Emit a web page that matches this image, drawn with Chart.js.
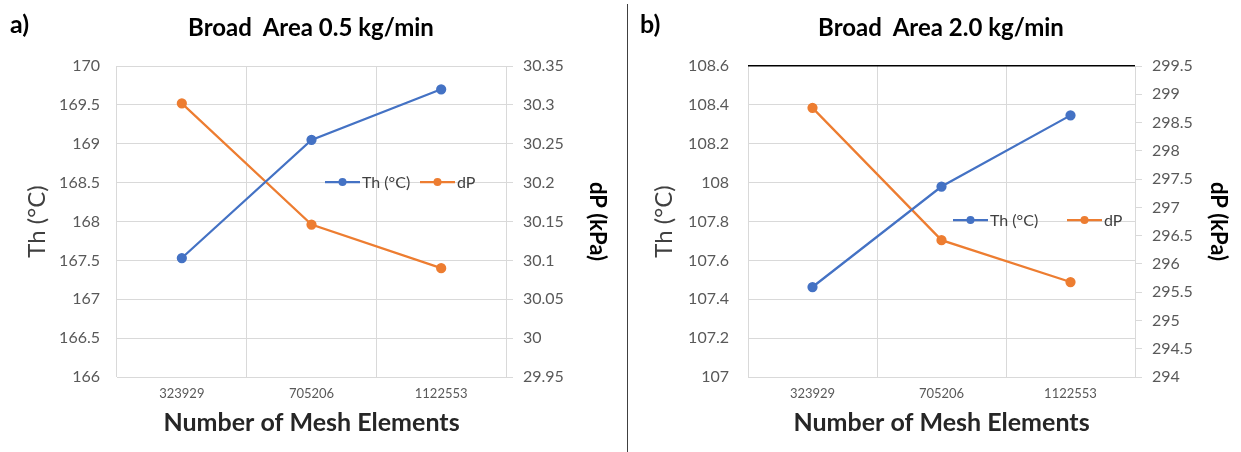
<!DOCTYPE html>
<html>
<head>
<meta charset="utf-8">
<script src="https://cdn.jsdelivr.net/npm/chart.js@4"></script>
<style>
  body { margin: 0; background: #fff; font-family: Lato, sans-serif; }
  #wrap { position: relative; width: 1241px; height: 452px; overflow: hidden; }
  .panel { position: absolute; top: 0; height: 452px; }
  .tag { position: absolute; top: 8px; font: bold 25px Lato, sans-serif; color: #000; }
  .ttl { position: absolute; top: 12px; width: 400px; margin-left: -200px; text-align: center;
         font: bold 24px Lato, sans-serif; color: #000; white-space: pre; }
  #divider { position: absolute; left: 627px; top: 4px; width: 1px; height: 448px; background: #404040; }
</style>
</head>
<body>
<div id="wrap">
  <div class="panel" style="left:0;width:620px"><canvas id="chartA"></canvas></div>
  <div class="panel" style="left:628px;width:613px"><canvas id="chartB"></canvas></div>
  <div class="tag" style="left:10px">a)</div>
  <div class="tag" style="left:640px">b)</div>
  <div class="ttl" style="left:311px">Broad  Area 0.5 kg/min</div>
  <div class="ttl" style="left:941px">Broad  Area 2.0 kg/min</div>
  <div id="divider"></div>
</div>
<script>
const categories = ['323929', '705206', '1122553'];

// panel a) 0.5 kg/min
const thA = [167.53, 169.05, 169.70];
const dpA = [30.302, 30.146, 30.09];
// panel b) 2.0 kg/min
const thB = [107.463, 107.98, 108.346];
const dpB = [298.76, 296.42, 295.68];

const thLabel = 'Th (°C)';
const dpLabel = 'dP';

const BLUE = '#4472C4';
const ORANGE = '#ED7D31';
const GRID = '#d9d9d9';
const TICK = '#595959';

const fmt = (v) => String(Number(v.toFixed(3)));

// legend drawn inside the plot, Excel style (line + marker)
const insideLegend = {
  id: 'insideLegend',
  afterDraw(chart, args, opts) {
    const { ctx } = chart;
    ctx.save();
    ctx.font = '16px Lato, sans-serif';
    ctx.textBaseline = 'middle';
    chart.data.datasets.forEach((ds, i) => {
      const x = opts.xs[i];
      const y = opts.y;
      ctx.strokeStyle = ds.borderColor;
      ctx.lineWidth = 2.25;
      ctx.beginPath();
      ctx.moveTo(x, y);
      ctx.lineTo(x + 35, y);
      ctx.stroke();
      ctx.fillStyle = ds.borderColor;
      ctx.beginPath();
      ctx.arc(x + 17.5, y, 4, 0, Math.PI * 2);
      ctx.fill();
      ctx.fillStyle = '#404040';
      ctx.fillText(ds.label, x + 37, y + 1);
    });
    ctx.restore();
  },
};

function buildChart(canvas, o) {
  return new Chart(canvas, {
    type: 'line',
    data: {
      labels: categories,
      datasets: [
        {
          label: thLabel, data: o.th, yAxisID: 'y',
          borderColor: BLUE, backgroundColor: BLUE, borderWidth: 2.25,
          pointRadius: 4, pointHoverRadius: 4, tension: 0,
        },
        {
          label: dpLabel, data: o.dp, yAxisID: 'y1',
          borderColor: ORANGE, backgroundColor: ORANGE, borderWidth: 2.25,
          pointRadius: 4, pointHoverRadius: 4, tension: 0,
        },
      ],
    },
    options: {
      responsive: false,
      animation: false,
      layout: { padding: { top: 66, left: 0, right: 0, bottom: 0 } },
      plugins: {
        legend: { display: false },
        tooltip: { enabled: false },
        insideLegend: o.legend,
      },
      scales: {
        x: {
          offset: true,
          grid: { offset: true, color: GRID, drawTicks: false },
          border: { color: GRID },
          ticks: { color: TICK, font: { family: 'Lato', size: 13 }, padding: 9, maxRotation: 0 },
          title: {
            display: true, text: 'Number of Mesh Elements', color: '#262626',
            font: { family: 'Lato', size: 25, weight: 'bold' }, padding: { top: 0, bottom: 14 },
          },
          afterFit: (s) => { s.height = 75; },
        },
        y: {
          position: 'left',
          min: o.yMin, max: o.yMax,
          grid: {
            color: (c) => (o.blackTop && c.tick && Math.abs(c.tick.value - o.yMax) < 1e-6 ? '#000' : GRID),
            lineWidth: (c) => (o.blackTop && c.tick && Math.abs(c.tick.value - o.yMax) < 1e-6 ? 1.5 : 1),
            drawTicks: false,
          },
          border: { display: false },
          ticks: { stepSize: o.yStep, color: TICK, font: { family: 'Lato', size: 16 }, padding: o.yPad, callback: fmt },
          title: {
            display: true, text: thLabel, color: '#404040',
            font: { family: 'Lato', size: 24 }, padding: { top: o.yTitlePad, bottom: 0 },
          },
          afterFit: (s) => { s.width = o.yWidth; },
        },
        y1: {
          position: 'right',
          min: o.y1Min, max: o.y1Max,
          grid: { drawOnChartArea: false, color: GRID, tickLength: 7 },
          border: { color: GRID },
          ticks: { stepSize: o.y1Step, color: TICK, font: { family: 'Lato', size: 16 }, padding: 10, callback: fmt },
          title: {
            display: true, text: 'dP (kPa)', color: '#000',
            font: { family: 'Lato', size: 22, weight: 'bold' }, padding: { top: 10, bottom: 0 },
          },
          afterFit: (s) => { s.width = o.y1Width; },
        },
      },
    },
    plugins: [insideLegend],
  });
}

function setup(id, w) {
  const c = document.getElementById(id);
  c.width = w; c.height = 452;
  c.style.width = w + 'px'; c.style.height = '452px';
  return c;
}

buildChart(setup('chartA', 620), {
  th: thA, dp: dpA,
  yMin: 166, yMax: 170, yStep: 0.5,
  y1Min: 29.95, y1Max: 30.35, y1Step: 0.05,
  yWidth: 117, y1Width: 114, yPad: 17, yTitlePad: 23,
  blackTop: false,
  legend: { y: 182, xs: [325, 420] },
});

buildChart(setup('chartB', 613), {
  th: thB, dp: dpB,
  yMin: 107, yMax: 108.6, yStep: 0.2,
  y1Min: 294, y1Max: 299.5, y1Step: 0.5,
  yWidth: 120, y1Width: 106, yPad: 19, yTitlePad: 22,
  blackTop: true,
  legend: { y: 220, xs: [325, 439] },
});
</script>
</body>
</html>
